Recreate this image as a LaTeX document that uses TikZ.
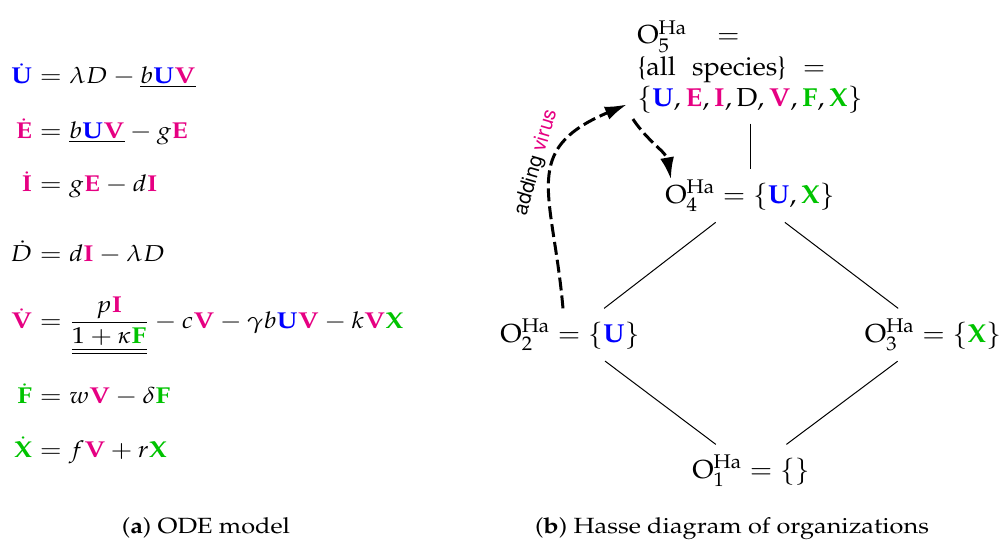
\documentclass[tikz,border=0pt]{standalone}
\usepackage[T1]{fontenc}
\usepackage{mathpazo}
\usepackage[scaled=0.92]{helvet}
\usepackage{amsmath}
\usepackage{graphicx}
\usepackage{xcolor}
\usetikzlibrary{arrows.meta}

\definecolor{uBlue}{RGB}{0,0,255}
\definecolor{vPink}{RGB}{230,0,130}
\definecolor{xGreen}{RGB}{0,195,0}
\newcommand{\spU}{\textcolor{uBlue}{\mathbf{U}}}
\newcommand{\spE}{\textcolor{vPink}{\mathbf{E}}}
\newcommand{\spI}{\textcolor{vPink}{\mathbf{I}}}
\newcommand{\spV}{\textcolor{vPink}{\mathbf{V}}}
\newcommand{\spF}{\textcolor{xGreen}{\mathbf{F}}}
\newcommand{\spX}{\textcolor{xGreen}{\mathbf{X}}}
\newcommand{\dsp}[2]{\textcolor{#1}{\dot{\mathbf{#2}}}}
\newcommand{\Oha}[1]{\mathrm{O}^{\mathrm{Ha}}_{#1}}
\newcommand{\orgset}[1]{=\{#1\}}
\newcommand{\wide}[2][1.15]{\scalebox{#1}[1]{#2}}

\begin{document}
\begin{tikzpicture}[x=0.5pt, y=-0.5pt,
    eq/.style={anchor=base west, inner sep=0pt, font=\fontsize{11.5}{13}\selectfont},
    hasse/.style={inner sep=5pt, font=\fontsize{13}{15.75}\selectfont},
    hasseline/.style={line width=0.5pt},
    addarrow/.style={line width=1.5pt, dash pattern=on 6.5pt off 2.5pt, -{Latex[length=11pt,width=7pt]}},
    caption/.style={anchor=base, font=\fontsize{11}{13}\selectfont}]
  \useasboundingbox (0,0) rectangle (1003,541);

  \node[eq] (eqU) at (32,83) {\wide{\llap{$\dsp{uBlue}{U}$}${}=\lambda D-\underline{b\spU\spV}$}};
  \node[eq] (eqE) at (32,138) {\wide{\llap{$\dsp{vPink}{E}$}${}=\underline{b\spU\spV}-g\spE$}};
  \node[eq] (eqI) at (32,191) {\wide{\llap{$\dsp{vPink}{I}$}${}=g\spE-d\spI$}};
  \node[eq] (eqD) at (32,261) {\wide{\llap{$\dot{D}$}${}=d\spI-\lambda D$}};
  \node[eq] (eqV) at (32,328) {\wide{\llap{$\dsp{vPink}{V}$}${}=\dfrac{p\spI}{\underline{\underline{1+\kappa\spF}}}-c\spV-\gamma b\spU\spV-k\spV\spX$}};
  \node[eq] (eqF) at (32,403) {\wide{\llap{$\dsp{xGreen}{F}$}${}=w\spV-\delta\spF$}};
  \node[eq] (eqX) at (32,457) {\wide{\llap{$\dsp{xGreen}{X}$}${}=f\spV+r\spX$}};

  \node[hasse, anchor=north, align=left] (o5) at (750,10)
    {\wide[1.045]{$\Oha{5}$\hspace{1.1em}$=$}\\
     \wide[1.045]{\{all\hspace{0.6em}species\}\hspace{0.6em}$=$}\\
     \wide[1.045]{$\{\spU, \spE, \spI, \mathrm{D}, \spV, \spF, \spX\}$}};
  \node[hasse, anchor=base] (o4) at (750,203) {\wide[1.045]{$\Oha{4}\orgset{\spU,\spX}$}};
  \node[hasse, anchor=base] (o2) at (570,342) {\wide[1.045]{$\Oha{2}\orgset{\spU}$}};
  \node[hasse, anchor=base] (o3) at (933,342) {\wide[1.045]{$\Oha{3}\orgset{\spX}$}};
  \node[hasse, anchor=base] (o1) at (751,478) {\wide[1.045]{$\Oha{1}\orgset{}$}};

  \draw[hasseline] (o5) -- (o4);
  \draw[hasseline] (o4) -- (o2);
  \draw[hasseline] (o4) -- (o3);
  \draw[hasseline] (o2) -- (o1);
  \draw[hasseline] (o3) -- (o1);

  \draw[addarrow] ([xshift=-3.5pt]o2.north) to[out=95, in=203, looseness=1.4]
    node[sloped, above, pos=0.57, font=\fontsize{11}{13}\sffamily] {adding \textcolor{vPink}{virus}} (o5.197);
  \draw[addarrow] ([xshift=3pt]o5.203) to[out=-56, in=100] ([xshift=8pt, yshift=-5pt]o4.north west);

  \node[caption] (capA) at (206,533) {\wide{(\textbf{a}) ODE model}};
  \node[caption] (capB) at (732,533) {\wide{(\textbf{b}) Hasse diagram of organizations}};
\end{tikzpicture}
\end{document}
